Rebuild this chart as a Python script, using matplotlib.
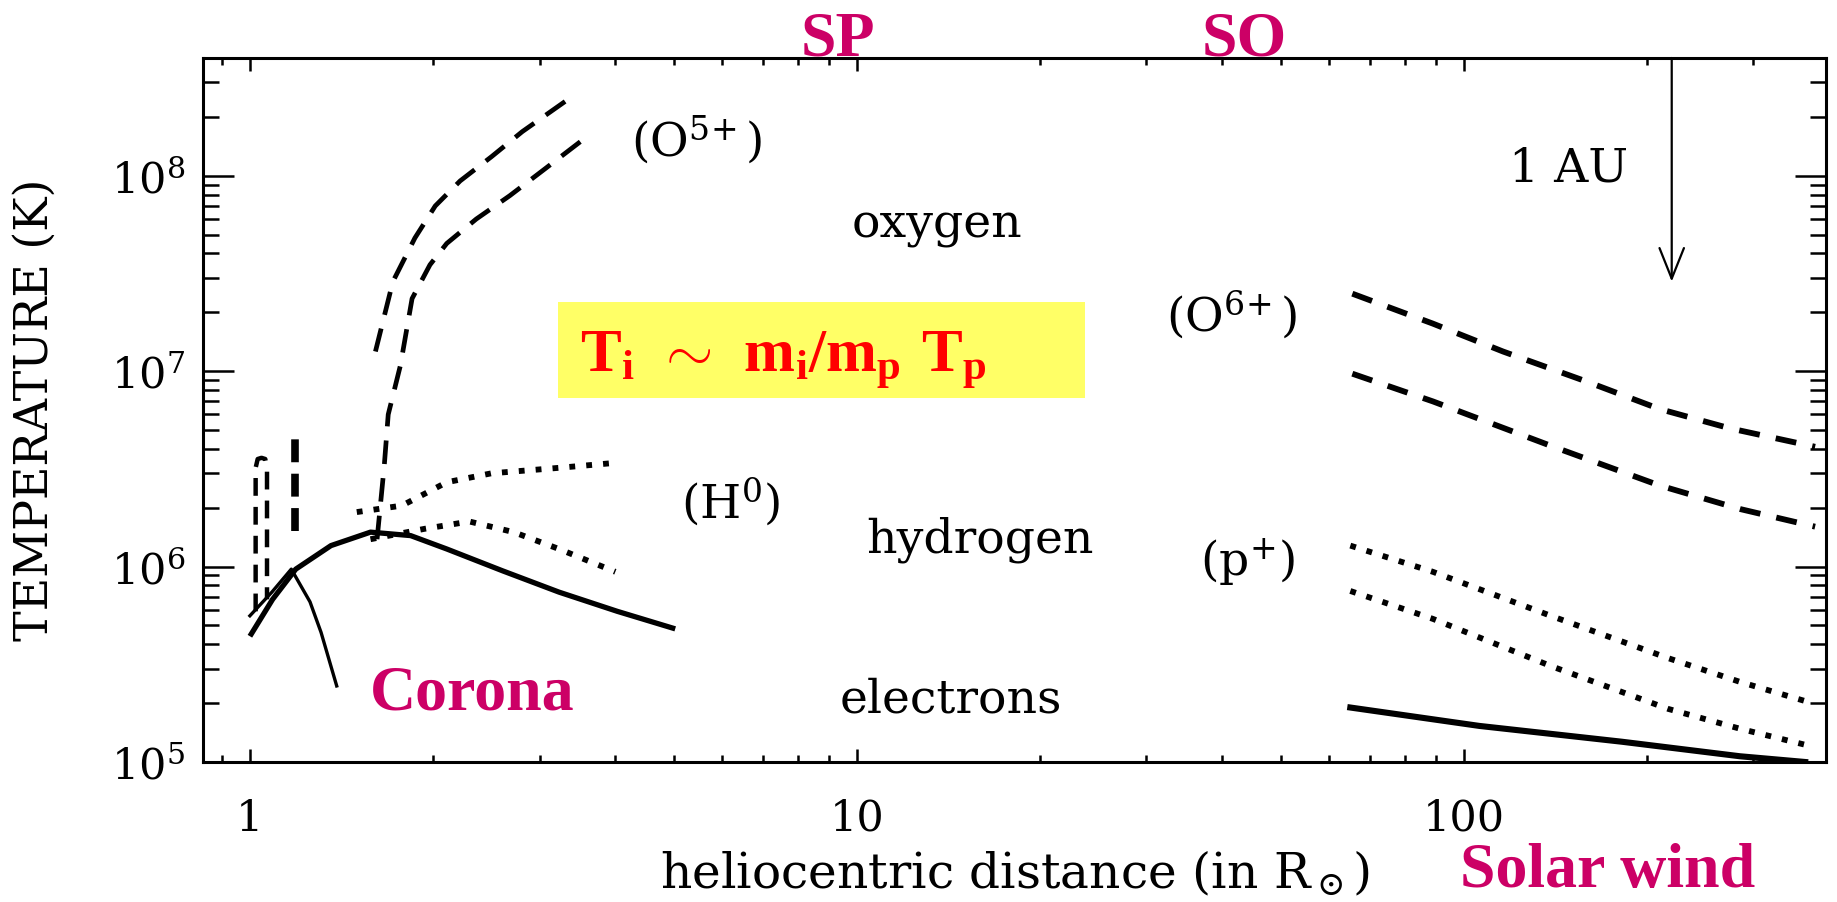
import matplotlib
matplotlib.use('Agg')
import matplotlib.pyplot as plt
from matplotlib.ticker import LogLocator, NullFormatter
from matplotlib.patches import Rectangle

plt.rcParams['font.family'] = ['DejaVu Serif']
plt.rcParams['mathtext.fontset'] = 'custom'
plt.rcParams['mathtext.rm'] = 'DejaVu Serif'
plt.rcParams['mathtext.it'] = 'DejaVu Serif:italic'
plt.rcParams['mathtext.bf'] = 'Liberation Serif:bold'

# --- corona (left part) ---
r_e_cor = [1.0, 1.09, 1.19, 1.36, 1.58, 1.84, 2.11, 2.61, 3.23, 4.03, 5.02]
T_e_cor = [4.4e5, 6.8e5, 9.7e5, 1.28e6, 1.5e6, 1.44e6, 1.23e6, 9.5e5, 7.4e5, 5.9e5, 4.8e5]

r_e_low = [1.0, 1.087, 1.17, 1.256, 1.31, 1.39]
T_e_low = [5.6e5, 7.4e5, 9.7e5, 6.6e5, 4.6e5, 2.45e5]

r_o_loop = [1.022, 1.022, 1.03, 1.045, 1.06, 1.067, 1.067]
T_o_loop = [5.9e5, 3.2e6, 3.55e6, 3.6e6, 3.55e6, 3.2e6, 6.8e5]

r_o_bar = [1.185, 1.185]
T_o_bar = [1.52e6, 4.8e6]

r_o5_up = [1.61, 1.72, 1.87, 2.02, 2.22, 2.50, 2.81, 3.37]
T_o5_up = [1.26e7, 2.87e7, 4.8e7, 7.0e7, 9.4e7, 1.25e8, 1.68e8, 2.5e8]

r_o5_lo = [1.62, 1.665, 1.69, 1.77, 1.85, 1.98, 2.11, 2.36, 2.68, 3.07, 3.51]
T_o5_lo = [1.38e6, 3.3e6, 6.0e6, 1.07e7, 2.35e7, 3.5e7, 4.5e7, 6.0e7, 7.9e7, 1.09e8, 1.5e8]

r_h_up = [1.50, 1.78, 2.11, 2.50, 3.23, 4.03]
T_h_up = [1.9e6, 2.05e6, 2.7e6, 3.0e6, 3.2e6, 3.4e6]

r_h_lo = [1.58, 1.94, 2.30, 2.72, 3.23, 4.0]
T_h_lo = [1.38e6, 1.56e6, 1.7e6, 1.5e6, 1.23e6, 9.4e5]

# --- solar wind (right part) ---
r_o6_up = [65.5, 88.9, 116, 160, 210, 274, 379]
T_o6_up = [2.49e7, 1.75e7, 1.26e7, 8.8e6, 6.4e6, 5.1e6, 4.1e6]

r_o6_lo = [65.5, 88.9, 139, 210, 285, 379]
T_o6_lo = [9.7e6, 7.0e6, 4.15e6, 2.6e6, 1.97e6, 1.6e6]

r_p_up = [65, 88.9, 139, 217, 285, 375]
T_p_up = [1.28e6, 9.4e5, 5.6e5, 3.4e5, 2.57e5, 2.0e5]

r_p_lo = [65, 88.9, 139, 217, 285, 375]
T_p_lo = [7.5e5, 5.4e5, 3.1e5, 1.87e5, 1.48e5, 1.2e5]

r_e_sw = [65, 106, 182, 285, 365]
T_e_sw = [1.9e5, 1.53e5, 1.27e5, 1.07e5, 1.0e5]

r_1au = 220
T_1au_tip = 2.87e7

x_ticks = [1, 10, 100]
x_ticklabels = ['1', '10', '100']
y_ticks = [1e5, 1e6, 1e7, 1e8]
y_ticklabels = [r'$10^{5}$', r'$10^{6}$', r'$10^{7}$', r'$10^{8}$']

W, H = 1837, 903
MAG = '#CC0066'


def fx(x):
    return x / W


def fy(y):
    return 1 - y / H


fig = plt.figure(figsize=(W / 100, H / 100), dpi=100)
ax = fig.add_axes([fx(203), fy(763), (1826 - 203) / W, (763 - 59) / H])
ax.set_xscale('log')
ax.set_yscale('log')
ax.set_xlim(0.837, 395)
ax.set_ylim(1e5, 4e8)

dash_o = (5, 3)
dash_sw = (3.6, 2.8)
dot = (1.0, 1.9)

ax.plot(r_e_cor, T_e_cor, color='black', lw=3.8, solid_capstyle='butt')
ax.plot(r_e_low, T_e_low, color='black', lw=2.4)
ax.plot(r_o_loop, T_o_loop, color='black', lw=3.2, dashes=(4, 2.5))
ax.plot(r_o_bar, T_o_bar, color='black', lw=5.5, dashes=(3, 1.5))
ax.plot(r_o5_up, T_o5_up, color='black', lw=3.4, dashes=dash_o)
ax.plot(r_o5_lo, T_o5_lo, color='black', lw=3.4, dashes=dash_o)
ax.plot(r_h_up, T_h_up, color='black', lw=4.2, dashes=dot)
ax.plot(r_h_lo, T_h_lo, color='black', lw=4.2, dashes=dot)

ax.plot(r_o6_up, T_o6_up, color='black', lw=4.2, dashes=dash_sw)
ax.plot(r_o6_lo, T_o6_lo, color='black', lw=4.2, dashes=dash_sw)
ax.plot(r_p_up, T_p_up, color='black', lw=4.2, dashes=dot)
ax.plot(r_p_lo, T_p_lo, color='black', lw=4.2, dashes=dot)
ax.plot(r_e_sw, T_e_sw, color='black', lw=4.4)

ax.annotate('', xy=(r_1au, T_1au_tip), xytext=(r_1au, 4e8),
            arrowprops=dict(arrowstyle='->,head_length=0.55,head_width=0.22',
                            lw=1.6, color='black', mutation_scale=40,
                            shrinkA=0, shrinkB=0))

ax.set_xticks(x_ticks, x_ticklabels)
ax.set_yticks(y_ticks, y_ticklabels)
ax.xaxis.set_minor_locator(LogLocator(base=10, subs=range(2, 10), numticks=20))
ax.yaxis.set_minor_locator(LogLocator(base=10, subs=range(2, 10), numticks=20))
ax.xaxis.set_minor_formatter(NullFormatter())
ax.yaxis.set_minor_formatter(NullFormatter())
ax.tick_params(which='both', direction='in', top=True, right=True, width=1.8)
ax.tick_params(axis='x', which='major', length=9.5, pad=25, labelsize=31)
ax.tick_params(axis='x', which='minor', length=5)
ax.tick_params(axis='y', which='major', length=22, pad=13, labelsize=31)
ax.tick_params(axis='y', which='minor', length=11.5)
for s in ax.spines.values():
    s.set_linewidth(2.2)

# axis titles
fig.text(fx(35), fy(410), 'TEMPERATURE (K)', rotation=90, ha='center',
         va='center', fontsize=33)
fig.text(fx(1015), fy(888), r'heliocentric distance (in R$_\odot$)',
         ha='center', va='baseline', fontsize=35)

# labels inside the plot
fs = 34
fig.text(fx(697), fy(140), r'(O$^{5\!+}$)', ha='center', va='center', fontsize=fs)
fig.text(fx(937), fy(238), 'oxygen', ha='center', va='baseline', fontsize=fs)
fig.text(fx(1232), fy(315), r'(O$^{6\!+}$)', ha='center', va='center', fontsize=fs)
fig.text(fx(1569), fy(182), '1 AU', ha='center', va='baseline', fontsize=fs)
fig.text(fx(730), fy(502), r'(H$^{0}$)', ha='center', va='center', fontsize=fs)
fig.text(fx(980), fy(553), 'hydrogen', ha='center', va='baseline', fontsize=fs)
fig.text(fx(1247), fy(562), r'(p$^{+}$)', ha='center', va='center', fontsize=fs)
fig.text(fx(951), fy(713), 'electrons', ha='center', va='baseline', fontsize=fs)

# yellow box with the mass-proportional law
fig.add_artist(Rectangle((fx(558), fy(399)), (1085 - 558) / W, (399 - 303) / H,
                         transform=fig.transFigure, facecolor='#FFFF66',
                         edgecolor='none', zorder=1))
fig.text(fx(580), fy(372), r'$\mathbf{T_i\ \sim\ m_i/m_p\ T_p}$',
         ha='left', va='baseline', fontsize=44, color='#FF0000', zorder=2)

# magenta annotations
mag = dict(color=MAG, fontsize=46, fontweight='bold', family='Liberation Serif',
           va='baseline')
fig.text(fx(838), fy(55), 'SP', ha='center', **mag)
fig.text(fx(1244), fy(55), 'SO', ha='center', **mag)
fig.text(fx(370), fy(710), 'Corona', ha='left', **mag)
fig.text(fx(1460), fy(887), 'Solar wind', ha='left', **mag)

fig.savefig('out.png', dpi=100)
print('Saved: out.png')
